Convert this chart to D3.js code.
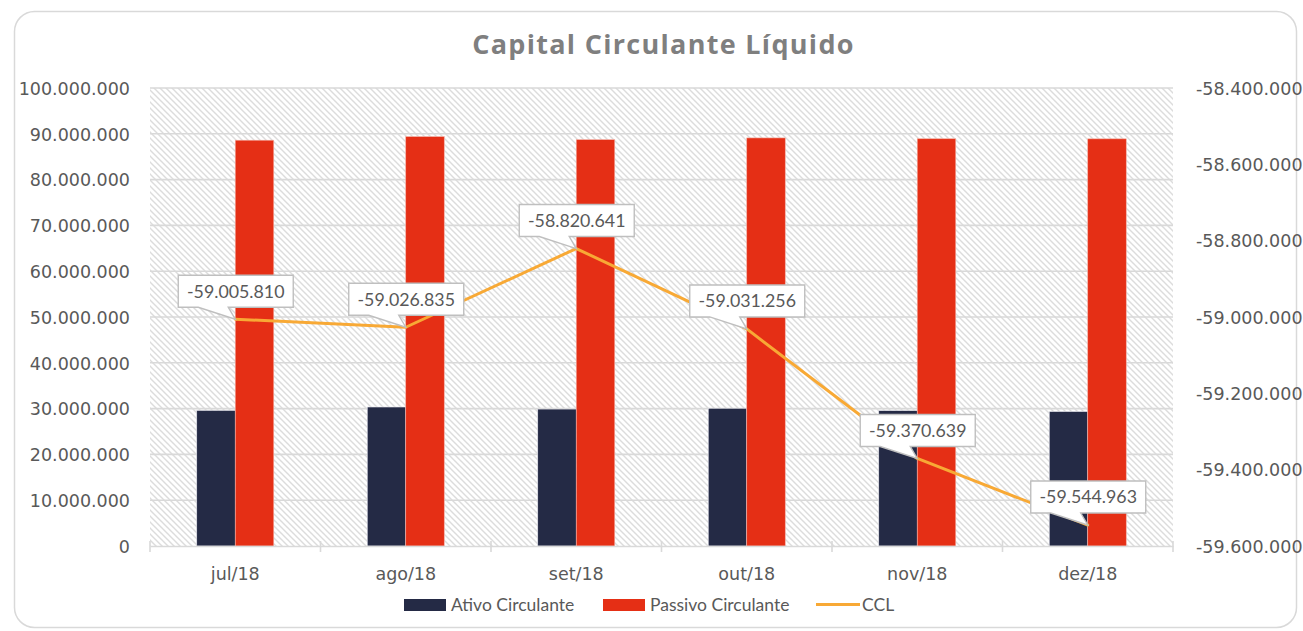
<!DOCTYPE html>
<html>
<head>
<meta charset="utf-8">
<script src="https://cdn.jsdelivr.net/npm/d3@7"></script>
<style>
  html, body { margin: 0; padding: 0; background: #fff; }
  svg { display: block; }
</style>
</head>
<body>
<svg id="chart" width="1303" height="631"></svg>
<script>
// ---- data ----
const categories = ["jul/18", "ago/18", "set/18", "out/18", "nov/18", "dez/18"];
const ativoCirculante = [29600000, 30350000, 29900000, 30070000, 29550000, 29350000];
const passivoCirculante = [88600000, 89380000, 88720000, 89100000, 88920000, 88900000];
const ccl = [-59005810, -59026835, -58820641, -59031256, -59370639, -59544963];
const leftTicks = [0, 10000000, 20000000, 30000000, 40000000, 50000000, 60000000, 70000000, 80000000, 90000000, 100000000];
const rightTicks = [-59600000, -59400000, -59200000, -59000000, -58800000, -58600000, -58400000];
const seriesNames = ["Ativo Circulante", "Passivo Circulante", "CCL"];
const titleText = "Capital Circulante Líquido";

// ---- setup ----
const svg = d3.select("#chart");
const plot = { left: 150, right: 1173, top: 88, bottom: 546 };
const colors = { ativo: "#242a45", passivo: "#e52f15", ccl: "#f8a935", grid: "#d9d9d9", text: "#595959" };

const loc = d3.formatLocale({ decimal: ",", thousands: ".", grouping: [3], currency: ["R$", ""], minus: "-" });
const fmt = loc.format(",d");

const x = d3.scaleBand().domain(categories).range([plot.left, plot.right]).padding(0);
const yL = d3.scaleLinear().domain([0, 100000000]).range([plot.bottom, plot.top]);
const yR = d3.scaleLinear().domain([-59600000, -58400000]).range([plot.bottom, plot.top]);

// chart border
svg.append("rect")
  .attr("x", 14.5).attr("y", 11.5).attr("width", 1282).attr("height", 616)
  .attr("rx", 20).attr("ry", 20)
  .attr("fill", "#fff").attr("stroke", "#d9d9d9").attr("stroke-width", 1.5);

// hatch pattern
const defs = svg.append("defs");
const pat = defs.append("pattern")
  .attr("id", "hatch").attr("patternUnits", "userSpaceOnUse")
  .attr("width", 6).attr("height", 6);
pat.append("rect").attr("width", 6).attr("height", 6).attr("fill", "#fff");
pat.append("path").attr("d", "M-1,-1 L7,7 M-1,5 L1,7 M5,-1 L7,1")
  .attr("stroke", "#dcdcdc").attr("stroke-width", 1.4);

svg.append("rect")
  .attr("x", plot.left).attr("y", plot.top)
  .attr("width", plot.right - plot.left).attr("height", plot.bottom - plot.top)
  .attr("fill", "url(#hatch)");

// title
svg.append("text")
  .attr("x", (plot.left + plot.right) / 2 + 2).attr("y", 54)
  .attr("text-anchor", "middle")
  .attr("font-family", "'Open Sans', Lato, sans-serif")
  .attr("font-weight", 700).attr("font-size", 27)
  .attr("letter-spacing", 1.3)
  .attr("fill", "#7f7f7f")
  .text(titleText);

// gridlines
const gridG = svg.append("g");
gridG.selectAll("line").data(leftTicks.filter(d => d !== 0)).join("line")
  .attr("x1", plot.left).attr("x2", plot.right)
  .attr("y1", d => yL(d)).attr("y2", d => yL(d))
  .attr("stroke", colors.grid).attr("stroke-width", 1.6);

// left axis
const leftAxis = d3.axisLeft(yL).tickValues(leftTicks).tickFormat(fmt).tickSize(0).tickPadding(0);
const gL = svg.append("g").attr("transform", `translate(${plot.left - 20},0)`).call(leftAxis);
gL.select(".domain").remove();
gL.selectAll("text").attr("font-family", "'DejaVu Sans', sans-serif").attr("font-size", 17.5)
  .attr("fill", colors.text).attr("dy", "0.36em");

// right axis
const rightAxis = d3.axisRight(yR).tickValues(rightTicks).tickFormat(fmt).tickSize(0).tickPadding(0);
const gR = svg.append("g").attr("transform", `translate(${plot.right + 23},0)`).call(rightAxis);
gR.select(".domain").remove();
gR.selectAll("text").attr("font-family", "'DejaVu Sans', sans-serif").attr("font-size", 17.5)
  .attr("fill", colors.text).attr("dy", "0.36em");

// bars
const barW = 38.5;
const barsG = svg.append("g");
barsG.selectAll("rect.ativo").data(categories).join("rect")
  .attr("class", "ativo")
  .attr("x", d => x(d) + x.bandwidth() / 2 - barW)
  .attr("width", barW)
  .attr("y", (d, i) => yL(ativoCirculante[i]))
  .attr("height", (d, i) => yL(0) - yL(ativoCirculante[i]))
  .attr("fill", colors.ativo).attr("stroke", "#e8e8ee").attr("stroke-width", 0.6);
barsG.selectAll("rect.passivo").data(categories).join("rect")
  .attr("class", "passivo")
  .attr("x", d => x(d) + x.bandwidth() / 2)
  .attr("width", barW)
  .attr("y", (d, i) => yL(passivoCirculante[i]))
  .attr("height", (d, i) => yL(0) - yL(passivoCirculante[i]))
  .attr("fill", colors.passivo).attr("stroke", "#f4b0a4").attr("stroke-width", 0.6);

// x axis baseline and ticks
const xAxis = d3.axisBottom(x).tickSize(0).tickPadding(0);
const gX = svg.append("g").attr("transform", `translate(0,${plot.bottom})`).call(xAxis);
gX.select(".domain").attr("stroke", colors.grid).attr("stroke-width", 1.6);
gX.selectAll("text").attr("font-family", "'DejaVu Sans', sans-serif").attr("font-size", 17.5)
  .attr("fill", colors.text).attr("dy", "1.94em");
const bounds = categories.map(c => x(c)).concat([plot.right]);
svg.append("g").selectAll("line").data(bounds).join("line")
  .attr("x1", d => d).attr("x2", d => d)
  .attr("y1", plot.bottom - 5).attr("y2", plot.bottom + 6)
  .attr("stroke", colors.grid).attr("stroke-width", 1.6);

// CCL line
const pts = categories.map((c, i) => [x(c) + x.bandwidth() / 2, yR(ccl[i])]);
svg.append("path")
  .attr("d", d3.line()(pts))
  .attr("fill", "none").attr("stroke", colors.ccl).attr("stroke-width", 3)
  .attr("stroke-linejoin", "round").attr("stroke-linecap", "round");

// callouts
const boxW = 115, boxH = 32;
const callG = svg.append("g");
pts.forEach((p, i) => {
  const [px, py] = p;
  const left = px - 57, bottom = py - 12, top = bottom - boxH, right = left + boxW;
  const d = `M${left},${top} H${right} V${bottom} H${left + 50} L${px},${py} L${left + 20},${bottom} H${left} Z`;
  callG.append("path").attr("d", d)
    .attr("fill", "#fff").attr("stroke", "#bfbfbf").attr("stroke-width", 1.4)
    .attr("stroke-linejoin", "miter");
  callG.append("text")
    .attr("x", left + boxW / 2).attr("y", top + boxH / 2)
    .attr("dy", "0.36em").attr("text-anchor", "middle")
    .attr("font-family", "Lato, sans-serif").attr("font-size", 17.8)
    .attr("fill", colors.text)
    .text(fmt(ccl[i]));
});

// legend
const legend = svg.append("g").attr("font-family", "Lato, sans-serif").attr("font-size", 17.5).attr("fill", colors.text);
const legItems = [
  { name: seriesNames[0], type: "rect", color: colors.ativo, x: 404, tx: 451 },
  { name: seriesNames[1], type: "rect", color: colors.passivo, x: 603, tx: 650 },
  { name: seriesNames[2], type: "line", color: colors.ccl, x: 816, tx: 862 }
];
legItems.forEach(it => {
  if (it.type === "rect") {
    legend.append("rect").attr("x", it.x).attr("y", 599).attr("width", 42).attr("height", 12).attr("fill", it.color);
  } else {
    legend.append("line").attr("x1", it.x).attr("x2", it.x + 44).attr("y1", 604.5).attr("y2", 604.5)
      .attr("stroke", it.color).attr("stroke-width", 3);
  }
  legend.append("text").attr("x", it.tx).attr("y", 611).text(it.name);
});
</script>
</body>
</html>
